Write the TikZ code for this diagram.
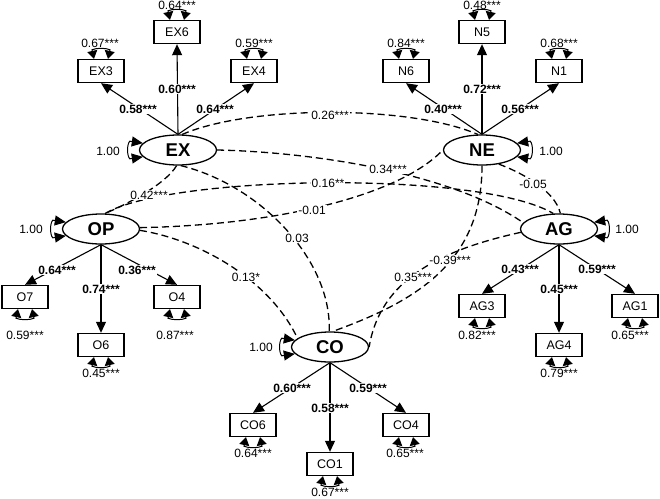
\documentclass[tikz,border=0pt]{standalone}
\usepackage{fontspec}
\setmainfont{Liberation Sans}
\usetikzlibrary{shapes.geometric,arrows.meta}
\begin{document}
\begin{tikzpicture}[x=1pt,y=-1pt,
  lat/.style={draw, ellipse, line width=1.3pt, minimum width=77pt, minimum height=30pt, inner sep=0pt, font=\fontsize{18.5}{19}\selectfont\bfseries},
  obs/.style={draw, rectangle, line width=1.4pt, minimum width=46pt, minimum height=23pt, inner sep=0pt, font=\fontsize{12.5}{13}\selectfont},
  num/.style={inner sep=1pt, font=\fontsize{12}{13}\selectfont},
  ld/.style={inner sep=1pt, fill=white, font=\fontsize{12}{13}\selectfont\bfseries},
  cvl/.style={inner sep=1pt, fill=white, font=\fontsize{12}{13}\selectfont},
  load/.style={line width=1.1pt, -{Triangle[length=11pt,width=10pt]}},
  cov/.style={line width=1.3pt, dash pattern=on 7pt off 4pt},
  var/.style={line width=1pt, {Triangle[length=11pt,width=10pt]}-{Triangle[length=11pt,width=10pt]}},
  rvar/.style={line width=1pt, {Triangle[length=8pt,width=10pt]}-{Triangle[length=8pt,width=10pt]}},
]
\useasboundingbox (0,0) rectangle (660,498);

% latent factors
\node[lat] (EX) at (178,150) {EX};
\node[lat] (NE) at (482,150) {NE};
\node[lat] (OP) at (101,229) {OP};
\node[lat] (AG) at (559,229) {AG};
\node[lat] (CO) at (330,347) {CO};

% indicators
\node[obs] (EX3) at (101,71) {EX3};
\node[obs] (EX6) at (177,32) {EX6};
\node[obs] (EX4) at (254,71) {EX4};
\node[obs] (N6) at (406,71) {N6};
\node[obs] (N5) at (482,32) {N5};
\node[obs] (N1) at (559,71) {N1};
\node[obs] (O7) at (25,297) {O7};
\node[obs] (O6) at (101,345) {O6};
\node[obs] (O4) at (177,297) {O4};
\node[obs] (AG3) at (482,306) {AG3};
\node[obs] (AG4) at (559,345) {AG4};
\node[obs] (AG1) at (635,306) {AG1};
\node[obs] (CO6) at (253,425) {CO6};
\node[obs] (CO1) at (330,464) {CO1};
\node[obs] (CO4) at (406,425) {CO4};

% covariances
\draw[cov] (EX.75) .. controls (250,105) and (410,105) .. (NE.105);
\draw[cov] (EX.east) .. controls (310,152) and (450,172) .. (AG.170);
\draw[cov] (OP.75) .. controls (170,175) and (480,170) .. (AG.110);
\draw[cov] (EX.265) .. controls (165,185) and (125,205) .. (OP.75);
\draw[cov] (EX.280) .. controls (260,185) and (332,260) .. (CO.93);
\draw[cov] (OP.2) .. controls (280,225) and (400,195) .. (NE.west);
\draw[cov] (NE.320) .. controls (520,172) and (555,190) .. (AG.85);
\draw[cov] (OP.358) .. controls (200,240) and (270,280) .. (CO.165);
\draw[cov] (NE.south) .. controls (482,260) and (420,300) .. (CO.80);
\draw[cov] (AG.185) .. controls (440,250) and (380,280) .. (CO.east);

% loadings
\foreach \f/\i in {EX/EX3,EX/EX6,EX/EX4,NE/N6,NE/N5,NE/N1}{
  \draw[load] (\f.north) -- (\i.south);
}
\foreach \f/\i in {OP/O7,OP/O6,OP/O4,AG/AG3,AG/AG4,AG/AG1,CO/CO6,CO/CO1,CO/CO4}{
  \draw[load] (\f.south) -- (\i.north);
}

% variances of factors (left side)
\foreach \f in {EX,OP,CO}{
  \draw[var] (\f.169) -- ++(-13,-2) .. controls +(-3,3) and +(-3,-3) .. ([shift={(-13,2)}]\f.191) -- (\f.191);
}
% variances of factors (right side)
\foreach \f in {NE,AG}{
  \draw[var] (\f.11) -- ++(13,-2) .. controls +(3,3) and +(3,-3) .. ([shift={(13,2)}]\f.349) -- (\f.349);
}

% residual arcs (top)
\foreach \i in {EX3,EX6,EX4,N6,N5,N1}{
  \draw[rvar] ([xshift=-7pt]\i.north) -- ++(-2,-9) .. controls +(4,-2) and +(-4,-2) .. ([shift={(9,-9)}]\i.north) -- ([xshift=7pt]\i.north);
}
% residual arcs (bottom)
\foreach \i in {O7,O6,O4,AG3,AG4,AG1,CO6,CO1,CO4}{
  \draw[rvar] ([xshift=-7pt]\i.south) -- ++(-2,9) .. controls +(4,2) and +(-4,2) .. ([shift={(9,9)}]\i.south) -- ([xshift=7pt]\i.south);
}

% factor variance labels
\node[num] (vEX) at (108,151) {1.00};
\node[num] (vNE) at (551,151) {1.00};
\node[num] (vOP) at (31,229) {1.00};
\node[num] (vAG) at (627,229) {1.00};
\node[num] (vCO) at (261,347) {1.00};

% residual labels
\node[num] (rEX3) at (100,43) {0.67***};
\node[num] (rEX6) at (177,5) {0.64***};
\node[num] (rEX4) at (254,43) {0.59***};
\node[num] (rN6) at (406,43) {0.84***};
\node[num] (rN5) at (482,5) {0.48***};
\node[num] (rN1) at (559,43) {0.68***};
\node[num] (rO7) at (25,335) {0.59***};
\node[num] (rO6) at (101,373) {0.45***};
\node[num] (rO4) at (175,335) {0.87***};
\node[num] (rAG3) at (477,335) {0.82***};
\node[num] (rAG4) at (559,373) {0.79***};
\node[num] (rAG1) at (630,335) {0.65***};
\node[num] (rCO6) at (253,453) {0.64***};
\node[num] (rCO1) at (330,492) {0.67***};
\node[num] (rCO4) at (405,453) {0.65***};

% loading labels
\node[ld] (lEX3) at (138,109) {0.58***};
\node[ld] (lEX6) at (177,89) {0.60***};
\node[ld] (lEX4) at (215,109) {0.64***};
\node[ld] (lN6) at (443,109) {0.40***};
\node[ld] (lN5) at (482,89) {0.72***};
\node[ld] (lN1) at (520,109) {0.56***};
\node[ld] (lO7) at (57,270) {0.64***};
\node[ld] (lO6) at (101,289) {0.74***};
\node[ld] (lO4) at (137,270) {0.36***};
\node[ld] (lAG3) at (520,269) {0.43***};
\node[ld] (lAG4) at (559,289) {0.45***};
\node[ld] (lAG1) at (597,269) {0.59***};
\node[ld] (lCO6) at (292,388) {0.60***};
\node[ld] (lCO1) at (330,408) {0.58***};
\node[ld] (lCO4) at (368,388) {0.59***};

% covariance labels
\node[cvl] (cEXNE) at (330,115) {0.26***};
\node[cvl] (cEXAG) at (388,169) {0.34***};
\node[cvl] (cOPAG) at (328,183) {0.16**};
\node[cvl] (cEXOP) at (149,195) {0.42***};
\node[cvl] (cOPNE) at (312,210) {-0.01};
\node[cvl] (cNEAG) at (533,184) {-0.05};
\node[cvl] (cEXCO) at (297,238) {0.03};
\node[cvl] (cOPCO) at (246,277) {0.13*};
\node[cvl] (cNECO) at (450,260) {-0.39***};
\node[cvl] (cAGCO) at (413,277) {0.35***};
\end{tikzpicture}
\end{document}
